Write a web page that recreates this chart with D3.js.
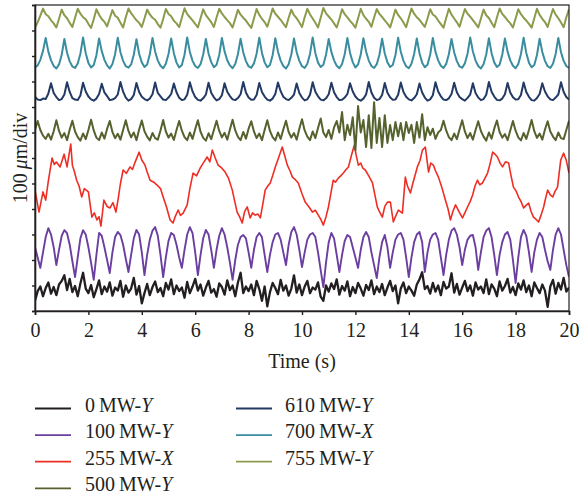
<!DOCTYPE html>
<html>
<head>
<meta charset="utf-8">
<script src="https://cdn.jsdelivr.net/npm/d3@7"></script>
<style>
  body { margin: 0; background: #fff; }
  svg { display: block; }
  text { font-family: "Liberation Serif", "Times New Roman", serif; fill: #231f20; }
</style>
</head>
<body>
<div id="chart"></div>
<script>
// sampling step of the traces (s)
const dt = 0.1;
const xTicks = [0, 2, 4, 6, 8, 10, 12, 14, 16, 18, 20];
const yTicks = [0, 100, 200, 300, 400, 500, 600, 700, 800, 900, 1000, 1100, 1200];

const powers = ["0", "100", "255", "500", "610", "700", "755"];
const dirs = ["Y", "Y", "X", "Y", "Y", "X", "Y"];
const colors = ["#231f20", "#6b3fa0", "#ee2e24", "#55622e", "#223a64", "#3a8d9f", "#8a9b4b"];
const widths = [2.3, 1.9, 1.6, 2, 2, 2, 2];
// vertical offset of each trace (um)
const offsets = [0, 100, 330, 660, 815, 945, 1100];

// displacement traces, um, one value every 0.1 s
const s0 = [
  40, 78, 96, 58, 90, 112, 68, 94, 62, 104,
  118, 140, 82, 126, 74, 98, 58, 108, 150, 88,
  70, 102, 54, 86, 120, 66, 96, 76, 112, 60,
  92, 80, 118, 56, 100, 72, 88, 130, 64, 98,
  30, 70, 106, 62, 94, 116, 74, 90, 58, 110,
  84, 124, 66, 100, 78, 92, 52, 114, 70, 96,
  126, 80, 104, 60, 92, 118, 72, 86, 56, 108,
  94, 64, 120, 82, 100, 58, 112, 150, 70, 96,
  78, 104, 62, 118, 86, 40, 96, 18, 74, 110,
  90, 66, 122, 80, 100, 60, 88, 140, 72, 104,
  62, 96, 118, 70, 92, 84, 112, 56, 40, 100,
  76, 108, 86, 124, 64, 98, 80, 116, 58, 94,
  70, 110, 88, 60, 102, 82, 120, 66, 96, 74,
  106, 62, 92, 118, 78, 100, 30, 88, 112, 70,
  96, 80, 60, 104, 124, 152, 86, 98, 68, 110,
  76, 100, 62, 114, 88, 96, 148, 72, 106, 64,
  92, 118, 78, 100, 60, 112, 84, 96, 70, 124,
  66, 104, 88, 58, 116, 80, 98, 126, 72, 94,
  62, 108, 84, 120, 74, 100, 58, 112, 90, 70,
  104, 80, 16, 96, 122, 68, 110, 84, 130, 76,
  92
];

const s100 = [
  150, 110, 69, 130, 190, 225, 200, 150, 80, 140,
  195, 217, 205, 160, 95, 33, 110, 185, 217, 200,
  150, 90, 22, 120, 206, 195, 150, 100, 49, 130,
  190, 210, 198, 160, 105, 53, 120, 185, 218, 200,
  130, 41, 120, 180, 215, 229, 195, 120, 33, 110,
  175, 206, 198, 160, 110, 69, 140, 200, 229, 205,
  130, 41, 120, 185, 218, 200, 140, 69, 140, 195,
  225, 200, 150, 90, 22, 100, 160, 190, 198, 185,
  130, 69, 140, 190, 206, 190, 120, 53, 120, 170,
  200, 206, 180, 130, 80, 160, 210, 229, 200, 140,
  72, 130, 180, 200, 206, 190, 130, 60, -6, 90,
  170, 206, 185, 120, 53, 120, 175, 198, 190, 150,
  110, 69, 140, 190, 210, 190, 130, 80, 29, 110,
  170, 198, 150, 69, 130, 180, 200, 206, 180, 110,
  33, 110, 170, 200, 210, 170, 53, 130, 180, 200,
  206, 180, 110, 41, 120, 180, 215, 225, 200, 150,
  80, 140, 180, 195, 198, 150, 61, 130, 190, 215,
  225, 190, 120, 41, 120, 170, 200, 210, 180, 100,
  10, 110, 190, 218, 195, 130, 53, 130, 180, 206,
  190, 140, 95, 61, 140, 200, 225, 200, 140, 80,
  33
];

// 255 MW trace read at irregular instants
const redT = [
  0, 0.15, 0.3, 0.4, 0.5, 0.64, 0.72, 0.8, 0.94, 1.09, 1.2, 1.34, 1.4, 1.48, 1.56, 1.65, 1.75, 1.85,
  2.0, 2.13, 2.22, 2.32, 2.4, 2.47, 2.58, 2.7, 2.81, 2.92, 3.03, 3.12, 3.2, 3.3, 3.42, 3.56, 3.65,
  3.75, 3.9, 4.0, 4.12, 4.2, 4.31, 4.45, 4.57, 4.7, 4.8, 4.92, 5.06, 5.17, 5.25, 5.36, 5.45, 5.55,
  5.7, 5.8, 5.92, 6.05, 6.19, 6.3, 6.45, 6.55, 6.64, 6.75, 6.86, 7.0, 7.12, 7.25, 7.39, 7.48, 7.57,
  7.66, 7.76, 7.85, 7.95, 8.06, 8.15, 8.25, 8.35, 8.44, 8.55, 8.62, 8.72, 8.81, 8.9, 9.0, 9.12,
  9.26, 9.35, 9.45, 9.55, 9.64, 9.75, 9.86, 10.0, 10.12, 10.25, 10.39, 10.5, 10.61, 10.7, 10.8,
  10.9, 10.99, 11.08, 11.17, 11.25, 11.36, 11.45, 11.55, 11.65, 11.74, 11.85, 11.96, 12.03, 12.11,
  12.2, 12.28, 12.37, 12.5, 12.64, 12.72, 12.82, 12.9, 13.01, 13.1, 13.2, 13.31, 13.42, 13.5,
  13.61, 13.76, 13.87, 13.95, 14.06, 14.15, 14.32, 14.42, 14.51, 14.62, 14.74, 14.82, 14.92, 15.0,
  15.11, 15.25, 15.37, 15.47, 15.56, 15.65, 15.75, 15.88, 16.01, 16.1, 16.2, 16.3, 16.39, 16.48,
  16.57, 16.66, 16.76, 16.85, 16.95, 17.05, 17.14, 17.23, 17.32, 17.42, 17.51, 17.62, 17.74, 17.83,
  17.92, 18.02, 18.11, 18.2, 18.3, 18.4, 18.49, 18.58, 18.67, 18.76, 18.86, 18.95, 19.05, 19.12,
  19.2, 19.3, 19.39, 19.48, 19.57, 19.63, 19.69, 19.8, 19.9, 20.0
];
const redV = [
  144, 58, 137, 105, 180, 270, 245, 254, 235, 285, 235, 325, 242, 215, 183, 160, 117, 150,
  137, 38, 55, 27, 40, 3, 105, 80, 74, 95, 58, 113, 170, 223, 210, 235, 225,
  254, 293, 262, 242, 215, 183, 175, 164, 150, 117, 80, 27, 15, 40, 66, 45, 54,
  86, 150, 211, 200, 231, 250, 274, 255, 301, 270, 242, 230, 215, 190, 144, 100, 58,
  40, 15, 60, 78, 35, 55, 46, 50, 35, 100, 144, 160, 172, 200, 235, 270,
  313, 280, 242, 220, 195, 185, 172, 130, 97, 80, 58, 65, 46, 30, 7,
  40, 78, 130, 183, 175, 191, 200, 211, 225, 235, 280, 321, 280, 242,
  250, 230, 223, 200, 172, 130, 78, 60, 38, 80, 97, 97, 19, 40,
  66, 54, 195, 160, 133, 170, 235, 260, 301, 313, 215, 250, 242, 220,
  195, 150, 105, 70, 27, 60, 86, 60, 35, 55, 78, 100, 125, 160,
  183, 165, 172, 190, 211, 250, 293, 285, 274, 250, 235, 255, 250, 200,
  156, 140, 117, 100, 74, 85, 93, 60, 38, 30, 19, 45, 78, 110,
  144, 125, 117, 140, 156, 210, 262, 289, 260, 211
];

const s500 = [
  50, 85, 50, 28, 15, 35, 12, 45,
  88, 46, 20, 38, 10, 52,
  86, 44, 22, 8, 36, 14, 50,
  90, 48, 20, 10, 40, 16, 54,
  85, 42, 18, 35, 12, 50,
  88, 46, 21, 40, 10, 52,
  87, 45, 24, 9, 38, 18, 12, 48,
  89, 44, 20, 36, 11, 50,
  85, 47, 22, 10, 40, 15, 53,
  88, 43, 19, 8, 37, 14, 50,
  86, 46, 21, 39, 12, 52,
  90, 48, 23, 10, 42, 16, 55,
  84, 44, 18, 36, 10, 50,
  88, 46, 22, 9, 40, 15, 52,
  86, 42, 20, 38, 12, 55,
  92, 48, 24, 10, 44, 18, 58,
  95, 40, 22, 50, 15, 60,
  85, 40, 120, 10, 70, 30, 100, -29, 144, 40,
  89, -17, 108, -21, 159, -1, 97, -17, 108, -1,
  69, 10, 81, 25, 77, 10, 81, 38, 70, -1,
  81, 20, 112, 10, 61, 30, 55, 15, 40, 50,
  86, 48, 22, 10, 36, 14, 52,
  88, 44, 18, 38, 12, 50,
  84, 46, 24, 8, 40, 16, 55,
  87, 42, 20, 34, 10, 48,
  85, 47, 21, 9, 38, 15, 50,
  89, 45, 19, 36, 12, 52,
  84, 44, 24, 10, 40, 18, 14, 50,
  86
];

const s610 = [
  25, 14, 12, 18, 16, 38,
  78, 40, 24, 12, 16, 34,
  82, 44, 20, 14, 12, 30,
  80, 46, 26, 15, 10, 18, 36,
  76, 42, 28, 12, 14, 20, 34,
  83, 45, 22, 10, 16, 32,
  79, 44, 25, 16, 11, 18, 35,
  81, 40, 27, 14, 12, 22, 36,
  77, 43, 21, 12, 15, 33,
  82, 46, 24, 13, 10, 19, 34,
  80, 41, 23, 11, 16, 31,
  78, 45, 28, 15, 12, 20, 35,
  83, 42, 22, 13, 14, 32,
  79, 44, 26, 14, 10, 18, 36,
  81, 47, 25, 16, 12, 21, 34,
  77, 40, 22, 11, 15, 33,
  82, 45, 27, 14, 11, 19, 35,
  80, 43, 24, 12, 13, 22, 36,
  78, 46, 26, 15, 10, 18, 34,
  83, 42, 21, 12, 16, 32,
  79, 41, 23, 13, 14, 33,
  81, 44, 25, 15, 11, 20, 35,
  77, 42, 22, 10, 15, 31,
  82, 46, 27, 14, 12, 19, 36,
  80, 43, 24, 16, 10, 21, 34,
  78, 40, 22, 12, 16, 33,
  83, 45, 26, 13, 11, 18, 35,
  79, 42, 23, 14, 15, 32,
  81, 44, 25, 12, 10, 20, 36,
  78, 46, 27, 15, 12, 22, 34,
  82, 44, 24, 14
];

const s700 = [
  10, 18, 40, 75,
  126, 72, 38, 16, 6, 22, 60,
  122, 68, 34, 14, 8, 26, 64,
  128, 66, 28, 10, 20, 58,
  124, 74, 40, 18, 6, 24, 62,
  127, 70, 36, 15, 9, 22, 60,
  121, 64, 30, 12, 22, 62,
  126, 72, 37, 17, 7, 25, 63,
  124, 66, 29, 10, 20, 60,
  128, 71, 36, 16, 8, 23, 61,
  122, 65, 31, 11, 21, 59,
  126, 73, 38, 18, 7, 24, 62,
  123, 69, 35, 14, 9, 26, 64,
  127, 67, 30, 11, 20, 58,
  125, 72, 37, 16, 6, 23, 61,
  124, 70, 36, 15, 8, 25, 63,
  128, 66, 29, 12, 21, 60,
  122, 71, 38, 17, 7, 24, 62,
  126, 67, 31, 10, 22, 61,
  125, 73, 37, 16, 8, 23, 60,
  123, 65, 30, 12, 20, 59,
  127, 72, 36, 15, 7, 25, 63,
  124, 66, 29, 11, 21, 60,
  126, 71, 38, 17, 8, 24, 62,
  122, 69, 35, 14, 9, 26, 64,
  128, 73, 37, 16, 6, 23, 61,
  125, 66, 30, 12, 21, 60,
  124, 72, 38, 17, 7, 24, 62,
  127, 67, 29, 11, 20, 59,
  123, 71, 36, 15, 8, 25, 63,
  126, 70, 36, 16, 8
];

const s755 = [
  12, 32, 58,
  86, 64, 56, 40, 28, 12, 46,
  82, 60, 48, 30, 14, 50,
  85, 66, 52, 44, 26, 10, 44,
  83, 62, 45, 34, 16, 48,
  80, 58, 50, 30, 12, 52,
  86, 68, 54, 40, 30, 14, 47,
  82, 63, 50, 42, 25, 11, 45,
  84, 65, 56, 38, 28, 13, 50,
  87, 64, 52, 40, 26, 12, 48,
  83, 60, 47, 32, 14, 51,
  85, 67, 53, 41, 29, 12, 46,
  81, 62, 50, 39, 24, 10, 47,
  84, 61, 46, 33, 15, 49,
  86, 66, 54, 42, 27, 13, 50,
  82, 60, 48, 31, 14, 52,
  85, 63, 47, 30, 12, 50,
  88, 67, 55, 43, 28, 12, 45,
  83, 64, 51, 38, 26, 11, 48,
  85, 60, 46, 34, 15, 51,
  84, 65, 53, 40, 27, 12, 46,
  82, 61, 48, 31, 13, 50,
  86, 66, 52, 42, 28, 14, 47,
  83, 63, 55, 39, 25, 11, 49,
  85, 62, 47, 32, 15, 50,
  84, 66, 54, 41, 27, 12, 46,
  82, 60, 49, 30, 13, 51,
  86, 65, 53, 40, 28, 12, 47,
  83, 64, 50, 39, 26, 11, 48,
  85, 61, 46, 33, 14, 50,
  84, 62, 48, 31, 13, 52,
  83
];

const width = 579;
const height = 498;
const margin = { top: 5, right: 10, bottom: 187, left: 35 };
const plotW = width - margin.left - margin.right;
const plotH = height - margin.top - margin.bottom;
const fontSize = "20px";

const svg = d3.select("#chart")
    .append("svg")
    .attr("width", width)
    .attr("height", height);

const x = d3.scaleLinear().domain([0, 20]).range([margin.left, margin.left + plotW]);
const y = d3.scaleLinear().domain([0, 1200]).range([margin.top + plotH, margin.top]);

// build the traces
const uniform = (vals, off) => vals.map((v, i) => [i * dt, v + off]);
const traces = [
    uniform(s0, offsets[0]),
    uniform(s100, offsets[1]),
    redT.map((t, i) => [t, redV[i] + offsets[2]]),
    uniform(s500, offsets[3]),
    uniform(s610, offsets[4]),
    uniform(s700, offsets[5]),
    uniform(s755, offsets[6])
];

svg.append("clipPath").attr("id", "clip")
    .append("rect")
    .attr("x", margin.left).attr("y", margin.top)
    .attr("width", plotW).attr("height", plotH);

const line = d3.line().x(d => x(d[0])).y(d => y(d[1]));

svg.append("g")
    .attr("clip-path", "url(#clip)")
    .selectAll("path")
    .data(traces)
    .enter()
    .append("path")
    .attr("d", line)
    .attr("fill", "none")
    .attr("stroke", (d, i) => colors[i])
    .attr("stroke-width", (d, i) => widths[i])
    .attr("stroke-linejoin", "round");

// frame
svg.append("rect")
    .attr("x", margin.left).attr("y", margin.top)
    .attr("width", plotW).attr("height", plotH)
    .attr("fill", "none")
    .attr("stroke", "#231f20")
    .attr("stroke-width", 1.2);

const xAxis = svg.append("g")
    .attr("transform", `translate(0,${margin.top + plotH})`)
    .call(d3.axisBottom(x).tickValues(xTicks).tickSize(4).tickPadding(8).tickFormat(d3.format("d")));

const yAxis = svg.append("g")
    .attr("transform", `translate(${margin.left},0)`)
    .call(d3.axisLeft(y).tickValues(yTicks).tickSize(3).tickFormat(""));

[xAxis, yAxis].forEach(g => {
    g.select(".domain").attr("stroke", "#231f20").attr("stroke-width", 1.6);
    g.selectAll(".tick line").attr("stroke", "#231f20").attr("stroke-width", 1.4);
});
xAxis.selectAll(".tick text")
    .style("font-family", "Liberation Serif, serif")
    .style("font-size", fontSize)
    .attr("fill", "#231f20");

svg.append("text")
    .attr("x", margin.left + plotW / 2)
    .attr("y", 368)
    .attr("text-anchor", "middle")
    .style("font-size", fontSize)
    .text("Time (s)");

const yLabel = svg.append("text")
    .attr("transform", `translate(27,${margin.top + plotH / 2}) rotate(-90)`)
    .attr("text-anchor", "middle")
    .style("font-size", fontSize);
yLabel.append("tspan").text("100\u2009");
yLabel.append("tspan").style("font-style", "italic").text("\u03bc");
yLabel.append("tspan").text("m/div");

// legend, two columns
const legend = svg.append("g")
    .selectAll("g")
    .data(powers)
    .enter()
    .append("g")
    .attr("transform", (d, i) => i < 4
        ? `translate(35,${408.5 + i * 26.6})`
        : `translate(236,${408.5 + (i - 4) * 26.6})`);

legend.append("line")
    .attr("x1", 0).attr("x2", 36)
    .attr("stroke", (d, i) => colors[i])
    .attr("stroke-width", 1.8);

const lt = legend.append("text")
    .attr("x", (d, i) => i < 4 ? 50 : 49)
    .attr("y", 3)
    .style("font-size", fontSize);
lt.append("tspan").text(d => d + "\u2009MW-");
lt.append("tspan").style("font-style", "italic").text((d, i) => dirs[i]);
</script>
</body>
</html>
